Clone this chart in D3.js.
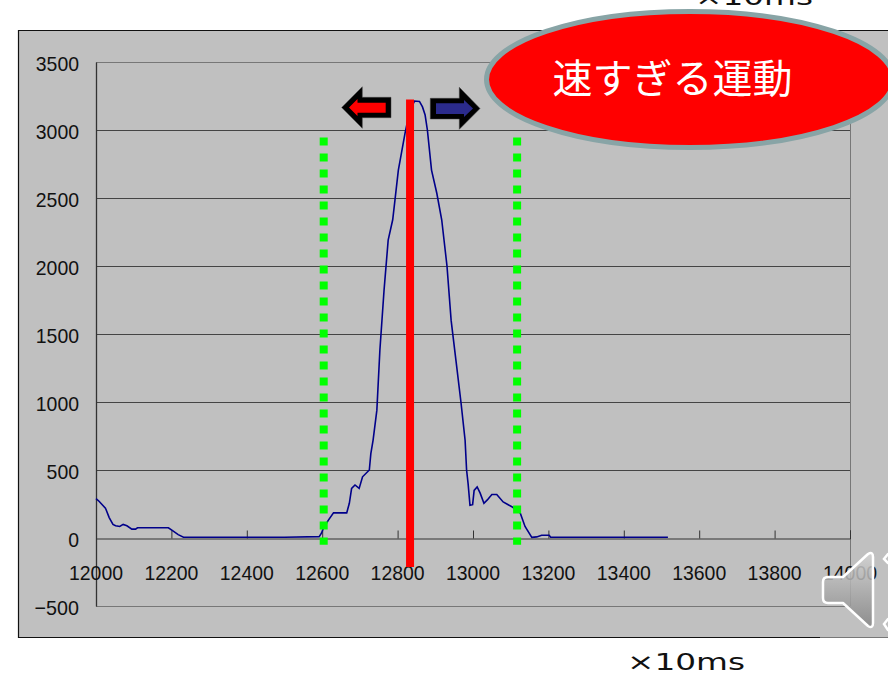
<!DOCTYPE html>
<html><head><meta charset="utf-8">
<script src="https://d3js.org/d3.v7.min.js"></script>
<style>html,body{margin:0;padding:0;background:#fff;overflow:hidden}svg{display:block}</style>
</head><body>
<svg id="c" width="888" height="675"></svg>
<script>
const xTicks = d3.range(12000, 14001, 200);
const yTicks = [3500,3000,2500,2000,1500,1000,500,0,-500];
const timeValues = [12000,12008,12025,12035,12045,12052,12063,12072,12082,12095,12105,12110,12150,12192,12205,12218,12232,12300,12400,12500,12592,12598,12603,12616,12630,12665,12672,12678,12687,12698,12707,12725,12729,12735,12745,12753,12764,12775,12787,12793,12802,12820,12833,12845,12858,12866,12873,12879,12890,12904,12917,12931,12942,12955,12968,12979,12983,12987,12992,12999,13003,13011,13019,13029,13038,13050,13063,13080,13103,13125,13138,13156,13169,13182,13202,13206,13300,13400,13517];
const speedValues = [290,270,220,150,100,90,85,100,90,65,65,75,75,75,50,25,5,5,5,5,10,35,70,130,185,185,255,365,390,365,450,500,620,720,940,1380,1820,2190,2340,2485,2705,2980,3150,3213,3210,3170,3110,3000,2705,2535,2340,2000,1600,1300,1000,720,500,400,240,245,350,375,330,255,280,320,320,265,230,185,85,5,8,20,20,5,5,5,5];
const boundaryTimes = [12604,13117];
const peakTime = 12833;
const peakRange = [3225,-213];
const boundaryRange = [2945,-50];
const badgeLabel = "速すぎる運動";
const unitLabel = "×10ms";

const svg = d3.select("#c");
const x = d3.scaleLinear().domain([12000,14000]).range([96,850]);
const y = d3.scaleLinear().domain([3500,-500]).range([62,606]);
const sans = "'Liberation Sans',Arial,sans-serif";
const digitWidth = 10.8;

// panel
svg.append("rect").attr("x",18).attr("y",30).attr("width",880).attr("height",607).attr("fill","#c0c0c0");
svg.append("path").attr("d","M820.5,637.5H18.5V30.5H888").attr("fill","none").attr("stroke","#111").attr("stroke-width",1.2);
svg.append("path").attr("d","M820,637.5H888").attr("fill","none").attr("stroke","#777").attr("stroke-width",1.2);

// grid
svg.append("g").selectAll("line").data(yTicks.filter(d=>d!==0)).join("line")
  .attr("x1",x(12000)).attr("x2",x(14000))
  .attr("y1",d=>Math.round(y(d))+.5).attr("y2",d=>Math.round(y(d))+.5)
  .attr("stroke",d=>(d===3500||d===-500)?"#777":"#444").attr("stroke-width",1);
svg.append("line").attr("x1",x(14000)+.5).attr("x2",x(14000)+.5).attr("y1",y(3500)).attr("y2",y(-500)).attr("stroke","#777");

// axes
const yAxis = svg.append("g").attr("transform",`translate(${x(12000)},0)`)
  .call(d3.axisLeft(y).tickValues(yTicks).tickSize(0).tickPadding(17).tickFormat(d=>d<0?"−"+(-d):d));
yAxis.select(".domain").attr("stroke","#333").attr("stroke-width",1.3);
yAxis.selectAll("text").attr("font-family",sans).attr("font-size",21).attr("fill","#111").attr("dy","0.41em")
  .attr("textLength",d=>String(Math.abs(d)).length*digitWidth+(d<0?12:0)).attr("lengthAdjust","spacingAndGlyphs");

const xAxis = svg.append("g").attr("transform",`translate(0,${Math.round(y(0))+.5})`)
  .call(d3.axisTop(x).tickValues(xTicks).tickSize(8).tickFormat(""));
xAxis.select(".domain").attr("stroke","#333").attr("stroke-width",1);
xAxis.selectAll("line").attr("stroke","#333");
svg.append("g").selectAll("text").data(xTicks).join("text")
  .attr("x",d=>x(d)).attr("y",y(0)+42).attr("text-anchor","middle")
  .attr("font-family",sans).attr("font-size",21).attr("fill","#111")
  .attr("textLength",54).attr("lengthAdjust","spacingAndGlyphs").text(d=>d);

// series
const pts = d3.zip(timeValues,speedValues);
svg.append("path").datum(pts).attr("fill","none").attr("stroke","#00008a").attr("stroke-width",1.6)
  .attr("d",d3.line().x(d=>x(d[0])).y(d=>y(d[1])));

// overlays
svg.append("g").selectAll("line").data(boundaryTimes).join("line")
  .attr("x1",d=>x(d)).attr("x2",d=>x(d)).attr("y1",y(boundaryRange[0])).attr("y2",y(boundaryRange[1]))
  .attr("stroke","#00ff00").attr("stroke-width",8).attr("stroke-dasharray","8 8");
svg.append("line").attr("x1",x(peakTime)).attr("x2",x(peakTime)).attr("y1",y(peakRange[0])).attr("y2",y(peakRange[1]))
  .attr("stroke","#ff0000").attr("stroke-width",8);

// arrows
svg.append("path").attr("fill","#000").attr("stroke","#444").attr("stroke-width",.5).attr("d","M341.7,107.5L362.3,86.7V97.3H391V117.7H362.3V128.3Z");
svg.append("path").attr("fill","#ff0000").attr("d","M349,107.5L357.5,99V102.7H385.7V112.7H357.5V116Z");
svg.append("path").attr("fill","#000").attr("stroke","#444").attr("stroke-width",.5).attr("d","M480,108.5L459.3,87.3V98.3H430.3V119H459.3V129.3Z");
svg.append("path").attr("fill","#2b2b8c").attr("d","M473,108.5L464,100V103.3H436V114H464V117Z");

// badge
svg.append("ellipse").attr("cx",690).attr("cy",79.5).attr("rx",203.5).attr("ry",68).attr("fill","#ff0000").attr("stroke","#88a4a6").attr("stroke-width",5);
svg.append("text").attr("x",672.5).attr("y",93).attr("text-anchor","middle").attr("fill","#fff")
  .attr("font-family","'Noto Sans CJK JP'").attr("font-weight",400).attr("font-size",40).text(badgeLabel);

// unit labels
svg.append("text").attr("x",627).attr("y",669.5).attr("font-family","'DejaVu Sans'").attr("font-size",23)
  .attr("textLength",118).attr("lengthAdjust","spacingAndGlyphs").attr("fill","#111").text(unitLabel);
svg.append("text").attr("x",695).attr("y",5).attr("font-family","'DejaVu Sans'").attr("font-size",23)
  .attr("textLength",118).attr("lengthAdjust","spacingAndGlyphs").attr("fill","#111").text(unitLabel);

// speaker icon
const defs = svg.append("defs");
const g = defs.append("linearGradient").attr("id","sp").attr("x1",0).attr("x2",0).attr("y1",0).attr("y2",1);
g.append("stop").attr("offset",0).attr("stop-color","#d4d4d4");
g.append("stop").attr("offset",1).attr("stop-color","#858585");
svg.append("path").attr("fill","url(#sp)").attr("fill-opacity",.85).attr("stroke","#fff").attr("stroke-width",2.5).attr("stroke-linejoin","round")
  .attr("d","M828,577H843L868,554Q873,551 873,557V623Q873,629 868,626L843,603H828Q823,603 823,598V582Q823,577 828,577Z");
svg.append("path").attr("fill","none").attr("stroke","#fff").attr("stroke-width",2.5).attr("stroke-linecap","round").attr("d","M888,554L884,559L888,563M888,619L884,624L888,630");
</script>
</body></html>
